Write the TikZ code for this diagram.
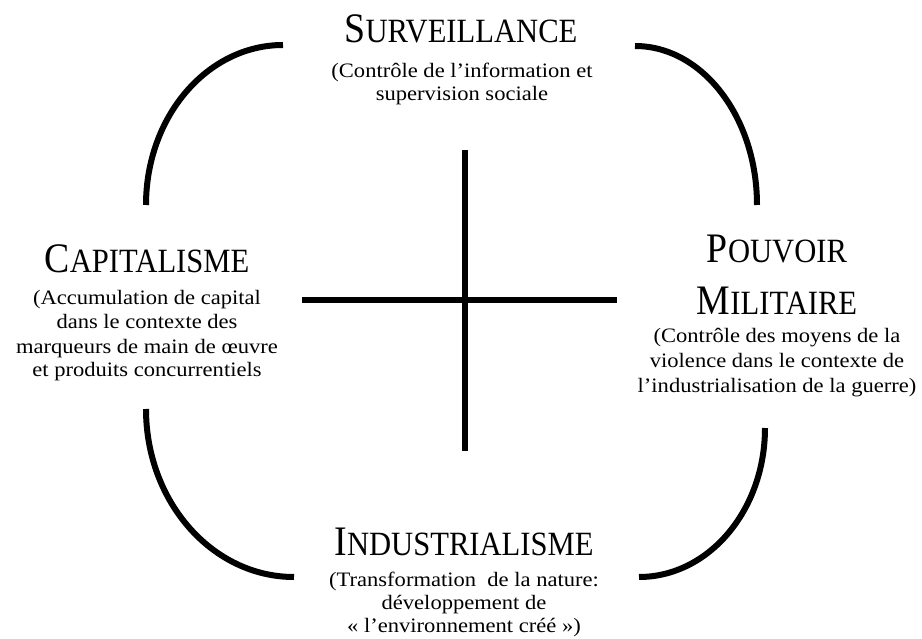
\documentclass[tikz,border=0pt]{standalone}
\usepackage{fontspec}
\setmainfont{Liberation Serif}
\newfontfamily\bodyfont[FakeStretch=1.1]{Liberation Serif}
\newfontfamily\titlefont[FakeStretch=0.9]{Liberation Serif}
\newcommand{\mytitle}[2]{{\fontsize{42}{42}\selectfont #1}{\fontsize{34}{34}\selectfont #2}}
\begin{document}
\begin{tikzpicture}[x=1pt,y=-1pt,
  titletext/.style={font={\titlefont\fontsize{34}{52}\selectfont}, inner sep=0pt, anchor=base, align=center},
  desctext/.style={font={\bodyfont\fontsize{20.5}{24}\selectfont}, inner sep=0pt, anchor=base, align=center},
  bar/.style={line width=6pt, line cap=butt},
  curve/.style={line width=6pt, line cap=butt}]
\useasboundingbox (0,0) rectangle (922,639);
% titles (base anchor = baseline of the last line)
\node[titletext] (surv) at (461,43) {\mytitle{S}{URVEILLANCE}};
\node[desctext, font={\bodyfont\fontsize{20.5}{23}\selectfont}] (survd) at (462,101) {(Contrôle de l’information et\\supervision sociale};
\node[titletext] (capi) at (147,273) {\mytitle{C}{APITALISME}};
\node[desctext] (capid) at (147,377) {(Accumulation de capital\\dans le contexte des\\marqueurs de main de œuvre\\et produits concurrentiels};
\node[titletext] (pouv) at (777,315) {\mytitle{P}{OUVOIR}\\\mytitle{M}{ILITAIRE}};
\node[desctext, font={\bodyfont\fontsize{20.5}{25}\selectfont}] (pouvd) at (777,392) {(Contrôle des moyens de la\\violence dans le contexte de\\l’industrialisation de la guerre)};
\node[titletext] (indu) at (464,555) {\mytitle{I}{NDUSTRIALISME}};
\node[desctext, font={\bodyfont\fontsize{20.5}{23}\selectfont}] (indud) at (464,632) {(Transformation\ \ de la nature:\\développement de\\«~l’environnement créé~»)};
% cross
\coordinate (vtop) at (465,150);
\coordinate (vbot) at (465,451);
\coordinate (hleft) at (302,300);
\coordinate (hright) at (617,300);
\draw[bar] (vtop) -- (vbot);
\draw[bar] (hleft) -- (hright);
% arcs
\coordinate (tl1) at (146,205); \coordinate (tl2) at (283,45);
\coordinate (tr1) at (635,46);  \coordinate (tr2) at (757,205);
\coordinate (bl1) at (146,409); \coordinate (bl2) at (294,577);
\coordinate (br1) at (765,428); \coordinate (br2) at (639,577);
\draw[curve] (tl1) .. controls (146,116.6) and (207.3,45) .. (tl2);
\draw[curve] (tr1) .. controls (702.4,46) and (757,117.2) .. (tr2);
\draw[curve] (bl1) .. controls (146,501.8) and (212.3,577) .. (bl2);
\draw[curve] (br1) .. controls (765,510.3) and (708.6,577) .. (br2);
\end{tikzpicture}
\end{document}
